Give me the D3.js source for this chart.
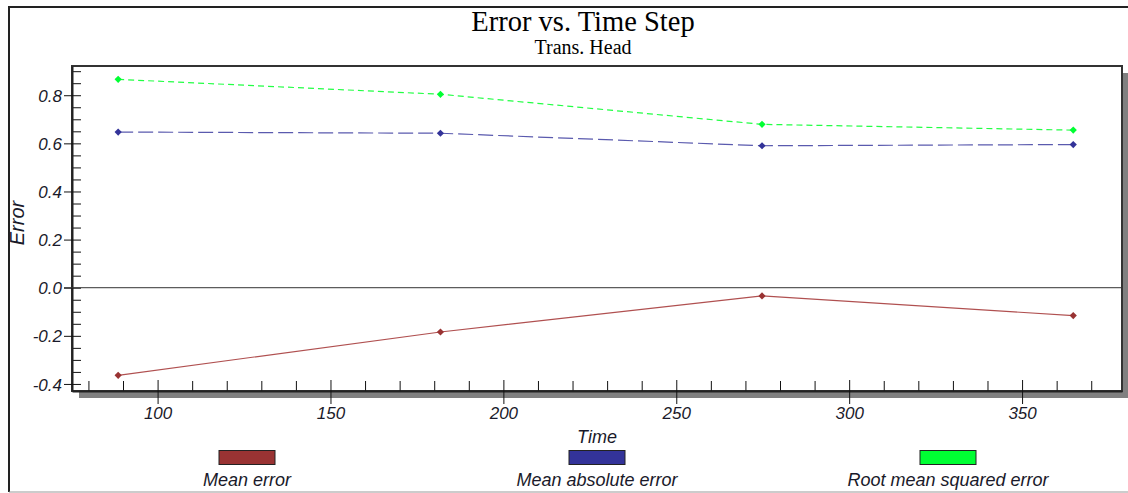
<!DOCTYPE html>
<html>
<head>
<meta charset="utf-8">
<script src="https://cdn.jsdelivr.net/npm/d3@7"></script>
<style>
  body { margin: 0; background: #fff; }
  .tick text, .lbl { font-family: "Liberation Sans", Arial, sans-serif; font-style: italic; fill: #1a1a2a; }
</style>
</head>
<body>
<div id="chart"></div>
<script>
// data
var times = [88.6, 181.8, 274.8, 364.8];
var meanError = [-0.364, -0.184, -0.034, -0.116];
var meanAbsError = [0.647, 0.642, 0.590, 0.595];
var rmsError = [0.866, 0.804, 0.679, 0.655];

var seriesNames = ["Mean error", "Mean absolute error", "Root mean squared error"];
var seriesColors = ["#993333", "#333399", "#00ff33"];
var lineColors = ["#b05050", "#5a5aae", "#22ff44"];
var dashes = [null, "15,5", "6,4"];

var svgWidth = 1128;
var svgHeight = 493;

var margin = { top: 66, right: 6, bottom: 102, left: 72 };
var chartWidth = svgWidth - margin.left - margin.right;
var chartHeight = svgHeight - margin.top - margin.bottom;

var svg = d3.select("#chart").append("svg")
  .attr("width", svgWidth).attr("height", svgHeight);

// outer frame
svg.append("line").attr("x1", 9).attr("x2", svgWidth).attr("y1", 7).attr("y2", 7)
  .attr("stroke", "#222").attr("stroke-width", 2);
svg.append("line").attr("x1", 9).attr("x2", 9).attr("y1", 6).attr("y2", 492)
  .attr("stroke", "#222").attr("stroke-width", 2);
svg.append("line").attr("x1", 9).attr("x2", svgWidth).attr("y1", 492).attr("y2", 492)
  .attr("stroke", "#999").attr("stroke-width", 1);

svg.append("text")
  .attr("x", 583).attr("y", 31)
  .attr("text-anchor", "middle")
  .style("font-family", "'Liberation Serif', 'Times New Roman', serif")
  .style("font-size", "28.5px")
  .text("Error vs. Time Step");

svg.append("text")
  .attr("x", 583).attr("y", 54)
  .attr("text-anchor", "middle")
  .style("font-family", "'Liberation Serif', 'Times New Roman', serif")
  .style("font-size", "20px")
  .text("Trans. Head");

var chartGroup = svg.append("g").attr("transform", `translate(${margin.left}, ${margin.top})`);

var xScale = d3.scaleLinear().domain([75.25, 378.9]).range([0, chartWidth]);
var yScale = d3.scaleLinear().domain([-0.4293, 0.9215]).range([chartHeight, 0]);

// drop shadow + plot box
chartGroup.append("rect")
  .attr("x", 7).attr("y", 7).attr("width", chartWidth).attr("height", chartHeight)
  .attr("fill", "#808080");
chartGroup.append("rect")
  .attr("width", chartWidth).attr("height", chartHeight)
  .attr("fill", "#fff").attr("stroke", "#333").attr("stroke-width", 2);

// axes
var xMinor = d3.range(80, 371, 10).filter(d => d % 50 != 0);
var xMajor = d3.range(100, 351, 50);
var yMinor = d3.range(-8, 19).map(d => d * 0.05).filter(d => Math.abs(d / 0.2 - Math.round(d / 0.2)) > 0.01);
var yMajor = [-0.4, -0.2, 0.0, 0.2, 0.4, 0.6, 0.8];

chartGroup.append("g").attr("transform", `translate(0, ${chartHeight})`)
  .call(d3.axisBottom(xScale).tickValues(xMinor).tickSize(-10).tickFormat(""))
  .call(g => g.select(".domain").remove())
  .call(g => g.selectAll("line").attr("stroke", "#111"));

chartGroup.append("g").attr("transform", `translate(0, ${chartHeight})`)
  .call(d3.axisBottom(xScale).tickValues(xMajor).tickSizeInner(0).tickSizeOuter(0).tickPadding(28))
  .call(g => g.select(".domain").attr("stroke", "#222").attr("stroke-width", 2))
  .call(g => g.selectAll("line").remove())
  .call(g => g.selectAll(".tick").append("line").attr("y1", -11).attr("y2", 13).attr("stroke", "#111"))
  .call(g => g.selectAll("text").style("font-size", "17px").attr("dy", 0));

chartGroup.append("g")
  .call(d3.axisLeft(yScale).tickValues(yMinor).tickSize(-9).tickFormat(""))
  .call(g => g.select(".domain").remove())
  .call(g => g.selectAll("line").attr("stroke", "#111"));

chartGroup.append("g")
  .call(d3.axisLeft(yScale).tickValues(yMajor).tickSizeInner(0).tickSizeOuter(0).tickPadding(10)
    .tickFormat(d => d3.format(".1f")(d).replace("−", "-")))
  .call(g => g.select(".domain").attr("stroke", "#222").attr("stroke-width", 2))
  .call(g => g.selectAll("line").remove())
  .call(g => g.selectAll(".tick").append("line").attr("x1", -8).attr("x2", 9).attr("stroke", "#111"))
  .call(g => g.selectAll("text").style("font-size", "17px").attr("dy", "0.36em"));

// zero line
chartGroup.append("line")
  .attr("x1", -8).attr("x2", chartWidth)
  .attr("y1", yScale(0)).attr("y2", yScale(0))
  .attr("stroke", "#333").attr("stroke-width", 1);

// series
var allSeries = [meanError, meanAbsError, rmsError];
var line = d3.line().x((d, i) => xScale(times[i])).y(d => yScale(d));
var marker = d3.symbol().type(d3.symbolSquare).size(26);

allSeries.forEach(function(values, s) {
  chartGroup.append("path")
    .datum(values)
    .attr("d", line)
    .attr("fill", "none")
    .attr("stroke", lineColors[s])
    .attr("stroke-width", 1.2)
    .attr("stroke-dasharray", dashes[s]);

  chartGroup.selectAll(".pt" + s).data(values).enter()
    .append("path")
    .attr("class", "pt" + s)
    .attr("d", marker)
    .attr("transform", (d, i) => `translate(${xScale(times[i])}, ${yScale(d)}) rotate(45)`)
    .attr("fill", seriesColors[s]);
});

// axis titles
svg.append("text").attr("class", "lbl")
  .attr("x", 597).attr("y", 443)
  .attr("text-anchor", "middle")
  .style("font-size", "18px")
  .text("Time");

svg.append("text").attr("class", "lbl")
  .attr("transform", "translate(24, 223) rotate(-90)")
  .attr("text-anchor", "middle")
  .style("font-size", "20px")
  .text("Error");

// legend
var legendX = [247, 597, 948];
seriesNames.forEach(function(name, s) {
  svg.append("rect")
    .attr("x", legendX[s] - 28).attr("y", 450.5)
    .attr("width", 56).attr("height", 14)
    .attr("fill", seriesColors[s]).attr("stroke", "#222").attr("stroke-width", 1);
  svg.append("text").attr("class", "lbl")
    .attr("x", legendX[s]).attr("y", 486)
    .attr("text-anchor", "middle")
    .style("font-size", "18px")
    .text(name);
});
</script>
</body>
</html>
